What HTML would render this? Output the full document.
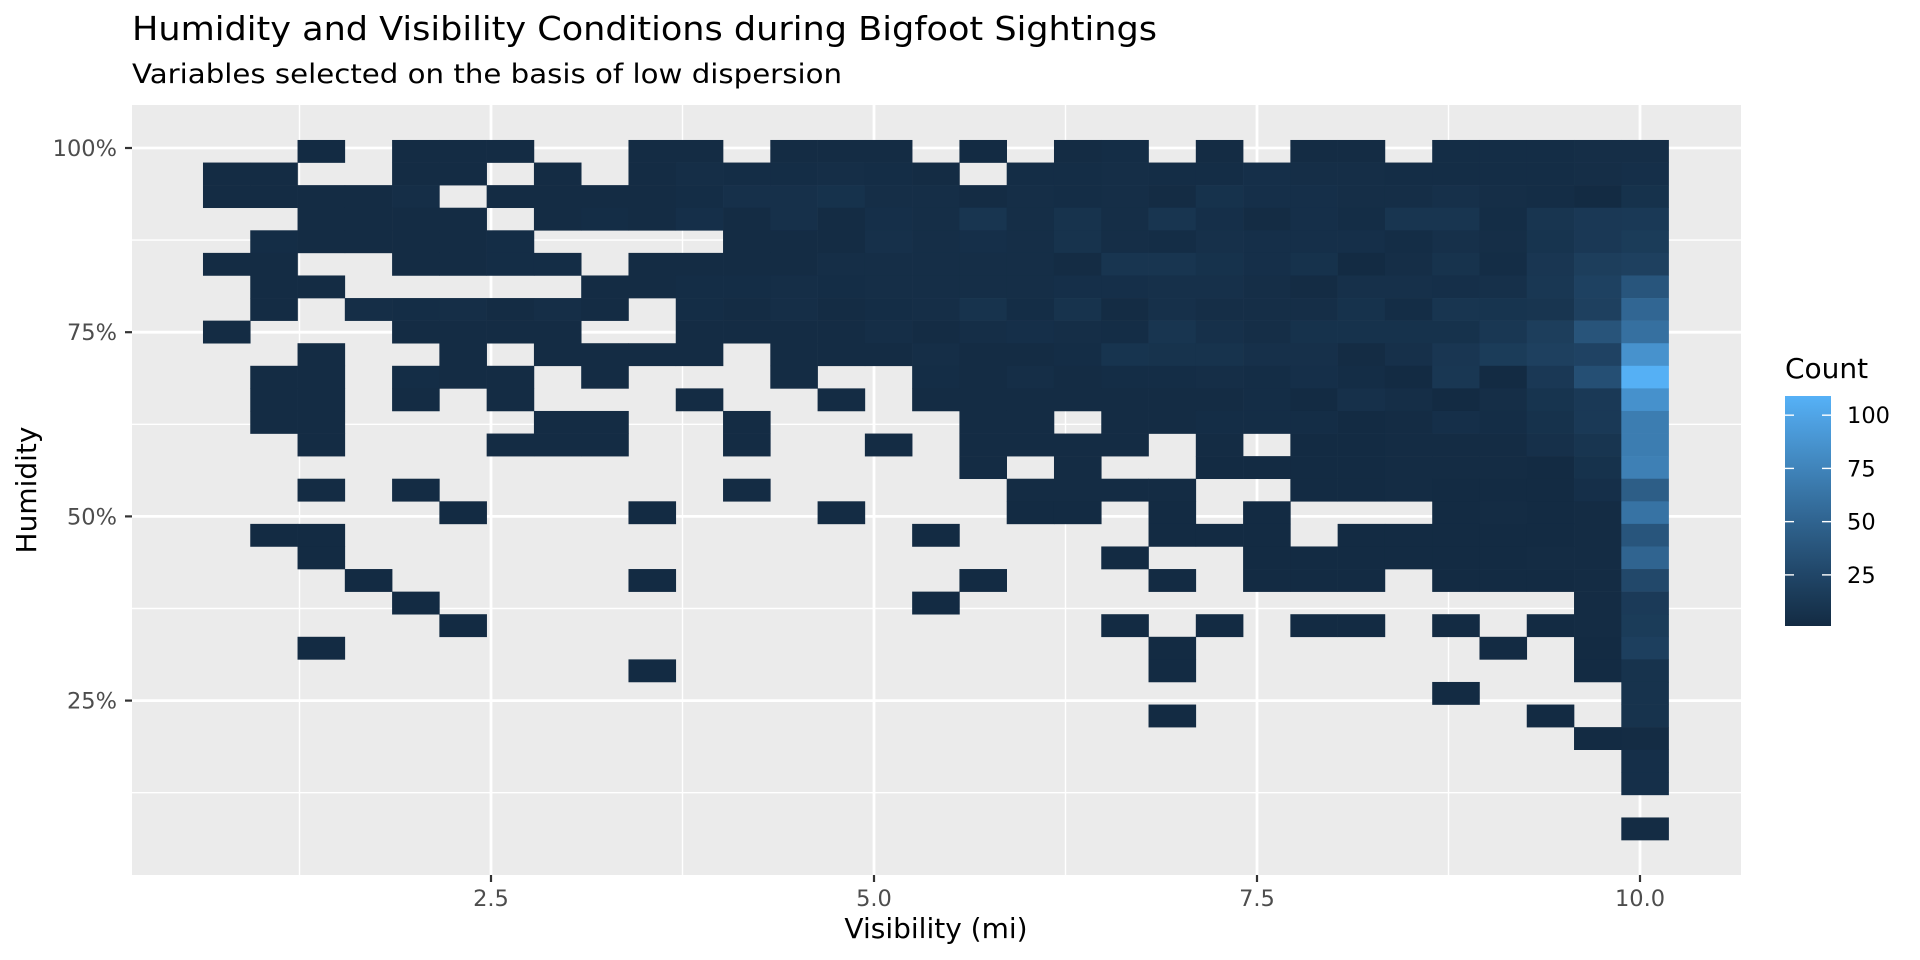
<!DOCTYPE html>
<html><head><meta charset="utf-8">
<style>
html,body{margin:0;padding:0;background:#fff;}
svg{display:block;font-family:"DejaVu Sans","Liberation Sans",sans-serif;}
</style></head>
<body>
<svg id="chart" width="1920" height="960" viewBox="0 0 1920 960">
  <rect x="0" y="0" width="1920" height="960" fill="#ffffff"/>
  <text x="132" y="40" font-size="33" fill="#000" textLength="1025" lengthAdjust="spacingAndGlyphs">Humidity and Visibility Conditions during Bigfoot Sightings</text>
  <text x="132" y="83" font-size="27" fill="#000" textLength="710" lengthAdjust="spacingAndGlyphs">Variables selected on the basis of low dispersion</text>
  <rect x="132" y="105" width="1609" height="770" fill="#EBEBEB"/>
  <g id="grid"></g>
  <g id="tiles"></g>
  <g id="axes"></g>
  <text x="936" y="938" font-size="28" fill="#000" text-anchor="middle">Visibility (mi)</text>
  <text x="0" y="0" font-size="28" fill="#000" text-anchor="middle" transform="translate(36,490) rotate(-90)">Humidity</text>
  <text x="1785" y="378" font-size="28" fill="#000">Count</text>
  <defs>
    <linearGradient id="legGrad" x1="0" y1="1" x2="0" y2="0"></linearGradient>
  </defs>
  <rect x="1785" y="396" width="46" height="230" fill="url(#legGrad)"/>
  <g id="legend"></g>
</svg>
<script>
// ---- data ----
const xTicks = [2.5, 5.0, 7.5, 10.0];
const xTickLabels = ["2.5", "5.0", "7.5", "10.0"];
const yTicks = [100, 75, 50, 25];
const yTickLabels = ["100%", "75%", "50%", "25%"];
const legendBreaks = [25, 50, 75, 100];
const countMin = 1;
const countMax = 109;
// bin layout (data units)
const visBinStart = 0.620;
const visBinWidth = 0.3086;
const humBinTop = 101.09;
const humBinHeight = 3.065;
// counts[humidity bin from top][visibility bin from left]
const counts = [
[0,0,1,0,2,2,2,0,0,2, 2,0,2,2,2,0,1,0,2,3, 0,2,0,2,2,0,3,3,3,4, 4],
[2,2,0,0,2,2,0,2,0,2, 4,3,3,4,3,2,0,3,3,4, 3,3,5,4,4,3,3,3,3,4, 5],
[2,2,2,2,4,0,2,2,2,2, 3,6,6,7,4,4,2,4,3,4, 2,7,5,5,4,4,6,4,3,1, 7],
[0,0,2,2,2,2,0,2,3,2, 5,2,6,2,5,4,10,4,8,4, 10,5,2,5,3,10,10,3,10,13, 14],
[0,3,2,2,2,2,3,0,0,0, 0,2,2,2,6,4,5,4,8,4, 3,6,5,5,5,3,6,4,9,13, 16],
[2,2,0,0,2,2,3,3,0,2, 2,2,2,4,4,4,4,4,2,10, 10,7,5,7,1,4,8,3,11,18, 20],
[0,2,2,0,0,0,0,0,2,2, 3,3,4,3,4,4,4,4,5,5, 6,6,4,2,6,6,5,6,12,21, 38],
[0,2,0,4,3,4,2,4,2,0, 3,2,4,2,3,4,8,3,8,2, 6,4,4,4,7,3,10,9,10,20, 52],
[2,0,0,0,2,2,2,2,0,0, 2,2,2,2,4,2,4,5,4,3, 10,6,4,7,7,7,7,12,18,37, 60],
[0,0,2,0,0,2,0,2,2,2, 2,0,2,2,2,4,2,2,3,9, 8,8,6,6,2,6,11,16,20,22, 86],
[0,2,2,0,3,2,2,0,2,0, 0,0,2,0,0,3,2,4,2,3, 3,4,3,5,3,1,12,1,13,33, 108],
[0,2,2,0,2,0,2,0,0,0, 2,0,0,2,0,2,2,2,2,2, 2,2,3,1,6,4,1,4,9,14, 85],
[0,2,2,0,0,0,0,2,2,0, 0,2,0,0,0,0,2,2,0,2, 2,3,3,3,1,2,5,3,7,14, 70],
[0,0,2,0,0,0,2,2,2,0, 0,2,0,0,2,0,2,2,2,2, 0,2,0,1,1,2,2,2,6,10, 70],
[0,0,0,0,0,0,0,0,0,0, 0,0,0,0,0,0,2,0,2,0, 0,1,1,1,1,2,2,2,1,7, 72],
[0,0,2,0,2,0,0,0,0,0, 0,2,0,0,0,0,0,2,2,2, 2,0,0,1,1,2,1,1,1,5, 45],
[0,0,0,0,0,1,0,0,0,1, 0,0,0,2,0,0,0,1,1,0, 1,0,1,0,0,0,1,2,1,2, 62],
[0,1,1,0,0,0,0,0,0,0, 0,0,0,0,0,1,0,0,0,0, 1,1,1,0,1,1,1,1,1,2, 38],
[0,0,1,0,0,0,0,0,0,0, 0,0,0,0,0,0,0,0,0,1, 0,0,1,1,1,1,1,1,2,2, 50],
[0,0,0,1,0,0,0,0,0,1, 0,0,0,0,0,0,1,0,0,0, 1,0,1,1,1,0,1,1,1,2, 27],
[0,0,0,0,1,0,0,0,0,0, 0,0,0,0,0,1,0,0,0,0, 0,0,0,0,0,0,0,0,0,2, 15],
[0,0,0,0,0,1,0,0,0,0, 0,0,0,0,0,0,0,0,0,1, 0,1,0,1,1,0,1,0,1,2, 16],
[0,0,1,0,0,0,0,0,0,0, 0,0,0,0,0,0,0,0,0,0, 1,0,0,0,0,0,0,1,0,1, 19],
[0,0,0,0,0,0,0,0,0,1, 0,0,0,0,0,0,0,0,0,0, 1,0,0,0,0,0,0,0,0,1, 8],
[0,0,0,0,0,0,0,0,0,0, 0,0,0,0,0,0,0,0,0,0, 0,0,0,0,0,0,1,0,0,0, 8],
[0,0,0,0,0,0,0,0,0,0, 0,0,0,0,0,0,0,0,0,0, 1,0,0,0,0,0,0,0,1,0, 8],
[0,0,0,0,0,0,0,0,0,0, 0,0,0,0,0,0,0,0,0,0, 0,0,0,0,0,0,0,0,0,1, 2],
[0,0,0,0,0,0,0,0,0,0, 0,0,0,0,0,0,0,0,0,0, 0,0,0,0,0,0,0,0,0,0, 5],
[0,0,0,0,0,0,0,0,0,0, 0,0,0,0,0,0,0,0,0,0, 0,0,0,0,0,0,0,0,0,0, 5],
[0,0,0,0,0,0,0,0,0,0, 0,0,0,0,0,0,0,0,0,0, 0,0,0,0,0,0,0,0,0,0, 0],
[0,0,0,0,0,0,0,0,0,0, 0,0,0,0,0,0,0,0,0,0, 0,0,0,0,0,0,0,0,0,0, 2]
];

// ---- scales ----
const NS = "http://www.w3.org/2000/svg";
const PL = 132, PR = 1741, PT = 105, PB = 875;
function xScale(v){ return 491 + (v - 2.5) * 153.2; }
function yScale(h){ return 148 + (100 - h) * 7.368; }

function srgbToLin(c){ c/=255; return c<=0.04045? c/12.92 : Math.pow((c+0.055)/1.055,2.4); }
function linToSrgb(c){ c = c<=0.0031308? 12.92*c : 1.055*Math.pow(c,1/2.4)-0.055; return Math.max(0,Math.min(255,Math.round(c*255))); }
function toLab(hex){
  const r=srgbToLin(parseInt(hex.substr(1,2),16)), g=srgbToLin(parseInt(hex.substr(3,2),16)), b=srgbToLin(parseInt(hex.substr(5,2),16));
  let X=(0.4124*r+0.3576*g+0.1805*b)/0.95047, Y=0.2126*r+0.7152*g+0.0722*b, Z=(0.0193*r+0.1192*g+0.9505*b)/1.08883;
  const f=t=> t>0.008856? Math.cbrt(t) : 7.787*t+16/116;
  return [116*f(Y)-16, 500*(f(X)-f(Y)), 200*(f(Y)-f(Z))];
}
function fromLab(L,a,b){
  const fy=(L+16)/116, fx=fy+a/500, fz=fy-b/200;
  const inv=t=> t*t*t>0.008856? t*t*t : (t-16/116)/7.787;
  const X=inv(fx)*0.95047, Y=inv(fy), Z=inv(fz)*1.08883;
  const r= 3.2406*X-1.5372*Y-0.4986*Z, g=-0.9689*X+1.8758*Y+0.0415*Z, bb=0.0557*X-0.2040*Y+1.0570*Z;
  return "rgb("+linToSrgb(r)+","+linToSrgb(g)+","+linToSrgb(bb)+")";
}
const LOW = toLab("#132B43"), HIGH = toLab("#56B1F7");
function colorFor(n){
  let t=(n-countMin)/(countMax-countMin); t=Math.max(0,Math.min(1,t));
  return fromLab(LOW[0]+(HIGH[0]-LOW[0])*t, LOW[1]+(HIGH[1]-LOW[1])*t, LOW[2]+(HIGH[2]-LOW[2])*t);
}

// ---- gridlines ----
const grid = document.getElementById("grid");
function line(parent,x1,y1,x2,y2,stroke,w){
  const l=document.createElementNS(NS,"line");
  l.setAttribute("x1",x1);l.setAttribute("y1",y1);l.setAttribute("x2",x2);l.setAttribute("y2",y2);
  l.setAttribute("stroke",stroke);l.setAttribute("stroke-width",w);
  parent.appendChild(l); return l;
}
[1.25,3.75,6.25,8.75].forEach(v=>{
  const l=line(grid,xScale(v),PT,xScale(v),PB,"#fff",1.4);
  
  
});
[87.5,62.5,37.5,12.5].forEach(v=>{
  const l=line(grid,PL,yScale(v),PR,yScale(v),"#fff",1.4);
  
  
});
xTicks.forEach(v=>{
  const l=line(grid,xScale(v),PT,xScale(v),PB,"#fff",2.8);
  
  
});
yTicks.forEach(v=>{
  const l=line(grid,PL,yScale(v),PR,yScale(v),"#fff",2.8);
  
  
});

// ---- tiles ----
const tiles=document.getElementById("tiles");
counts.forEach((row,ri)=>{
  row.forEach((n,ci)=>{
    if(!n) return;
    const v0=visBinStart+ci*visBinWidth, v1=v0+visBinWidth;
    const h0=humBinTop-ri*humBinHeight, h1=h0-humBinHeight;
    const x0=xScale(v0), x1=xScale(v1), y0=yScale(h0), y1=yScale(h1);
    const r=document.createElementNS(NS,"rect");
    r.setAttribute("x",x0.toFixed(2));r.setAttribute("y",y0.toFixed(2));
    r.setAttribute("width",(x1-x0+0.3).toFixed(2));r.setAttribute("height",(y1-y0+0.3).toFixed(2));
    r.setAttribute("fill",colorFor(n));
    
    
    tiles.appendChild(r);
  });
});

// ---- axes ----
const axes=document.getElementById("axes");
function txt(parent,x,y,s,size,anchor,fill){
  const t=document.createElementNS(NS,"text");
  t.setAttribute("x",x);t.setAttribute("y",y);t.setAttribute("font-size",size);
  t.setAttribute("text-anchor",anchor);t.setAttribute("fill",fill);t.textContent=s;
  parent.appendChild(t);return t;
}
xTicks.forEach((v,i)=>{
  const l=line(axes,xScale(v),PB,xScale(v),PB+7,"#333",2.2);
  
  
  const t=txt(axes,xScale(v),906,xTickLabels[i],22.5,"middle","#4D4D4D");
  
  
});
yTicks.forEach((v,i)=>{
  const l=line(axes,PL-7,yScale(v),PL,yScale(v),"#333",2.2);
  
  
  const t=txt(axes,117,yScale(v)+8,yTickLabels[i],22.5,"end","#4D4D4D");
  
  
});

// ---- legend ----
const grad=document.getElementById("legGrad");
const LT=396, LB=626;
function legY(n){ return LB - (n-countMin)/(countMax-countMin)*(LB-LT); }
for(let i=0;i<=20;i++){
  const s=document.createElementNS(NS,"stop");
  s.setAttribute("offset",(i/20));
  s.setAttribute("stop-color",colorFor(countMin+(countMax-countMin)*i/20));
  grad.appendChild(s);
}
const leg=document.getElementById("legend");
legendBreaks.forEach(b=>{
  const y=legY(b);
  const a=line(leg,1785,y,1794,y,"#fff",1.4);
  
  
  const c=line(leg,1822,y,1831,y,"#fff",1.4);
  
  
  const t=txt(leg,1847,y+8,String(b),22.5,"start","#000");
  
  
});
</script>
</body></html>
